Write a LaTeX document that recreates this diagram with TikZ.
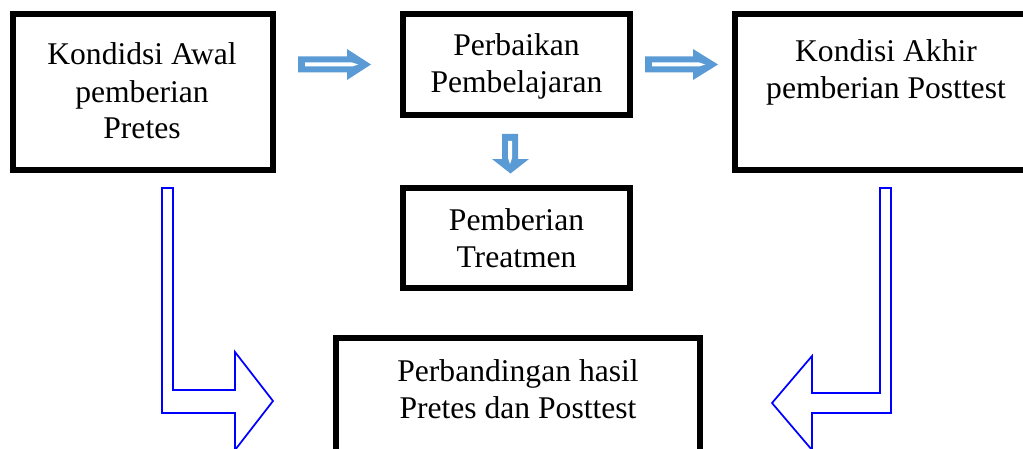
\documentclass[tikz,border=0pt]{standalone}
\usepackage{fontspec}
\setmainfont{Liberation Serif}
\definecolor{arrowblue}{HTML}{5B9BD5}
\definecolor{outlineblue}{HTML}{0000FF}
\begin{document}
\begin{tikzpicture}[x=0.75pt,y=-0.75pt,
  box/.style={draw=black,line width=4.5pt,rectangle,inner sep=0pt},
  txt/.style={align=center,font=\fontsize{23.7pt}{27.75pt}\selectfont,inner sep=0pt,anchor=base},
  fatarrow/.style={fill=arrowblue,draw=none},
  stripe/.style={fill=white,draw=none},
  bent/.style={draw=outlineblue,line width=1.3pt,fill=white,line join=miter}]
\useasboundingbox (0,0) rectangle (1023,449);
\clip (0,0) rectangle (1023,449);
% boxes
\node[box,minimum width=195pt,minimum height=117pt] (b1) at (143,92) {};
\node[box,minimum width=170.25pt,minimum height=75.75pt] (b2) at (516.5,64.5) {};
\node[box,minimum width=251.25pt,minimum height=117pt] (b3) at (902.5,92) {};
\node[box,minimum width=170.25pt,minimum height=75pt] (b4) at (516.5,238) {};
\node[box,minimum width=273pt,minimum height=121.5pt] (b5) at (518,419) {};
% texts (anchored at the baseline of the last line)
\node[txt] (t1) at (142,139) {Kondidsi Awal\\pemberian\\Pretes};
\node[txt] (t2) at (516.5,93) {Perbaikan\\Pembelajaran};
\node[txt] (t3) at (886,98.5) {Kondisi Akhir\\pemberian Posttest};
\node[txt] (t4) at (516.5,267) {Pemberian\\Treatmen};
\node[txt] (t5) at (518,418) {Perbandingan hasil\\Pretes dan Posttest};
% small filled arrows
\fill[fatarrow] (298,56.5) -- (347,56.5) -- (347,49) -- (371,64.5) -- (347,80) -- (347,72.5) -- (298,72.5) -- cycle;
\fill[stripe] (305,62.5) -- (352,62.5) -- (358,64.5) -- (352,66.5) -- (305,66.5) -- cycle;
\fill[fatarrow] (645,56.5) -- (693,56.5) -- (693,49) -- (718,64.5) -- (693,80) -- (693,72.5) -- (645,72.5) -- cycle;
\fill[stripe] (652,62.5) -- (699,62.5) -- (705,64.5) -- (699,66.5) -- (652,66.5) -- cycle;
\fill[fatarrow] (502,134) -- (518,134) -- (518,159) -- (529,159) -- (510.5,173.5) -- (492,159) -- (502,159) -- cycle;
\fill[stripe] (508,141) -- (512,141) -- (512,158) -- (510,164) -- (508,158) -- cycle;
% bent outline arrows
\draw[bent] (162,188) -- (173,188) -- (173,390) -- (235,390) -- (235,352) -- (273,401) -- (235,450) -- (235,413) -- (162,413) -- cycle;
\draw[bent] (891,188) -- (880,188) -- (880,393) -- (812,393) -- (812,356) -- (772,403) -- (812,450) -- (812,413) -- (891,413) -- cycle;
\end{tikzpicture}
\end{document}
